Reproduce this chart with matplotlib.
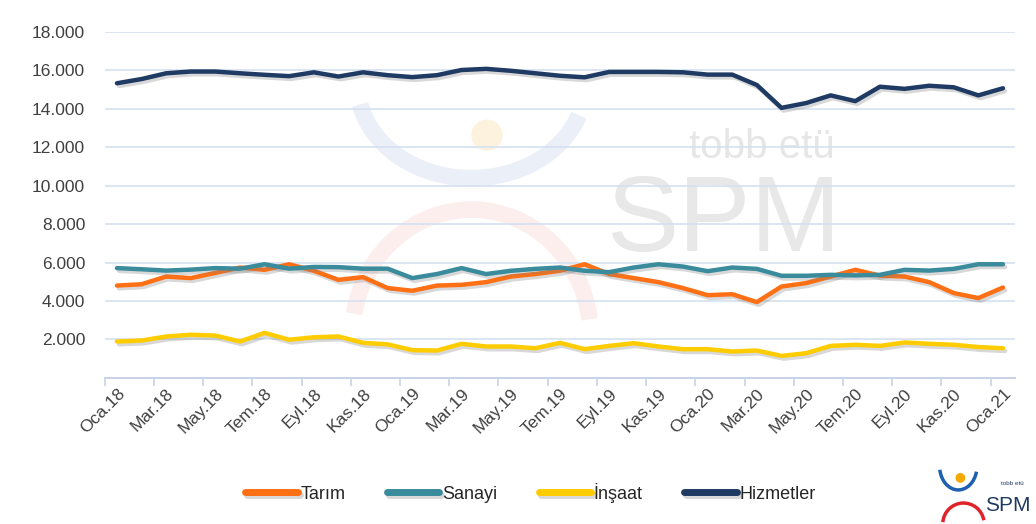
import numpy as np
import matplotlib
matplotlib.use("Agg")
from matplotlib import pyplot as plt
from matplotlib import patheffects as pe
from matplotlib.patches import Arc, Ellipse
from matplotlib.ticker import FuncFormatter

# monthly employment by sector (thousand persons), Oca.18 - Oca.21
aylar = ["Oca", "Şub", "Mar", "Nis", "May", "Haz", "Tem", "Ağu", "Eyl", "Eki", "Kas", "Ara"]
months = [f"{aylar[i % 12]}.{18 + i // 12}" for i in range(37)]

tarim = [4800, 4870, 5270, 5190, 5460, 5740, 5620, 5910, 5570, 5100, 5240, 4670,
         4530, 4800, 4840, 4980, 5270, 5400, 5570, 5910, 5400, 5190, 4980, 4670,
         4300, 4350, 3940, 4750, 4930, 5270, 5620, 5320, 5270, 4980, 4410, 4150, 4700]
sanayi = [5710, 5650, 5580, 5630, 5710, 5680, 5910, 5680, 5770, 5760, 5680, 5680,
          5190, 5400, 5710, 5400, 5570, 5670, 5740, 5570, 5500, 5740, 5910, 5790,
          5550, 5740, 5670, 5310, 5310, 5360, 5330, 5360, 5620, 5580, 5670, 5910, 5910]
insaat = [1890, 1940, 2150, 2240, 2200, 1890, 2340, 1980, 2110, 2150, 1820, 1740,
          1440, 1420, 1770, 1630, 1630, 1540, 1820, 1490, 1660, 1800, 1630, 1490,
          1490, 1370, 1420, 1140, 1280, 1660, 1720, 1660, 1840, 1770, 1720, 1600, 1540]
hizmetler = [15330, 15550, 15850, 15940, 15940, 15850, 15770, 15700, 15900, 15680, 15900, 15750,
             15650, 15750, 16020, 16080, 15980, 15850, 15720, 15640, 15920, 15920, 15920, 15900,
             15780, 15780, 15240, 14050, 14300, 14700, 14400, 15150, 15040, 15200, 15120, 14700, 15070]

series = [("Tarım", tarim, "#FF6F14"),
          ("Sanayi", sanayi, "#3A8B9C"),
          ("İnşaat", insaat, "#FFCC00"),
          ("Hizmetler", hizmetler, "#1F3A63")]

plt.rcParams['font.family'] = ['Liberation Sans', 'DejaVu Sans']

fig = plt.figure(figsize=(10.36, 5.24), dpi=100)
ax = fig.add_axes([0.101, 0.279, 0.879, 0.66])
ax.set_facecolor('none')

# faint watermark behind the chart
wm = dict(transform=fig.transFigure, zorder=0.5)
ax.text(0.665, 0.72, "tobb etü", fontsize=29, color="#E6E6E6", ha="left", va="center", **wm)
ax.text(0.585, 0.575, "SPM", fontsize=78, color="#E8E8E8", ha="left", va="center", **wm)
ax.add_patch(Ellipse((0.47, 0.742), 0.029, 0.057, color="#FDF2DE", **wm))
ax.add_patch(Arc((0.455, 0.84), 0.22, 0.36, theta1=200, theta2=330, lw=12, color="#EBF0F8", **wm))
ax.add_patch(Arc((0.455, 0.36), 0.23, 0.48, theta1=15, theta2=160, lw=12, color="#FDEEEE", **wm))

x = np.arange(len(months))
for name, vals, col in series:
    ax.plot(x, vals, color=col, lw=3.2, label=name, solid_capstyle='round', zorder=3,
            path_effects=[pe.SimpleLineShadow(offset=(1.5, -2), shadow_color='#808080', alpha=0.3),
                          pe.Normal()])

ax.set_xlim(-0.5, 36.5)
ax.set_ylim(0, 18000)
ax.set_yticks(np.arange(0, 18001, 2000))
ax.yaxis.set_major_formatter(FuncFormatter(lambda v, p: "" if v == 0 else f"{int(v):,}".replace(",", ".")))
ax.grid(axis='y', color="#D5E0F0", lw=1.2, zorder=1)
ax.set_axisbelow(True)

ax.set_xticks(np.arange(-0.5, 36.6, 2))
ax.set_xticklabels([])
ax.set_xticks(np.arange(0, 37, 2), minor=True)
ax.set_xticklabels(months[::2], minor=True, rotation=45, ha='right', va='top',
                   rotation_mode='anchor', fontsize=12.5, color="#404040")
ax.tick_params(axis='x', which='major', length=6, width=1.2, color="#C8D3E6", direction='out')
ax.tick_params(axis='x', which='minor', length=0, pad=6)
ax.tick_params(axis='y', length=0, labelsize=12.5, labelcolor="#404040", pad=14)

for s in ['top', 'right', 'left']:
    ax.spines[s].set_visible(False)
ax.spines['bottom'].set_color("#C8D3E6")
ax.spines['bottom'].set_linewidth(1.4)

leg = fig.legend(loc='center', bbox_to_anchor=(0.512, 0.06), ncol=4, frameon=False,
                 fontsize=13, handlelength=2.9, handletextpad=0.15, columnspacing=2.3)
for h in leg.get_lines():
    h.set_linewidth(5)
for t in leg.get_texts():
    t.set_color("#262626")

# logo bottom right
fig.text(0.951, 0.018, "SPM", fontsize=15, color="#1F3A63", ha='left', va='bottom')
fig.text(0.966, 0.072, "tobb etü", fontsize=4.5, color="#1F3A63", ha='left', va='bottom')
fig.add_artist(Arc((0.925, 0.11), 0.036, 0.09, theta1=200, theta2=330, lw=2.5, color="#1F5FB0",
                   transform=fig.transFigure))
fig.add_artist(Arc((0.93, 0.0), 0.04, 0.08, theta1=20, theta2=170, lw=2.5, color="#E0232A",
                   transform=fig.transFigure))
fig.add_artist(Ellipse((0.927, 0.088), 0.008, 0.016, color="#F5A800", transform=fig.transFigure))

fig.savefig("out.png", dpi=100)
